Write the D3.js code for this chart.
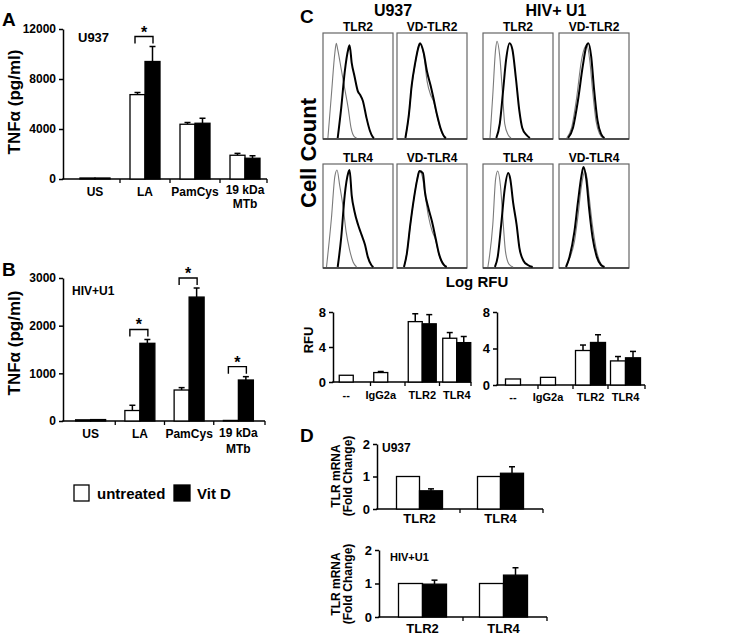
<!DOCTYPE html>
<html>
<head>
<meta charset="utf-8">
<script src="https://cdn.jsdelivr.net/npm/d3@7"></script>
<style>
  body { margin: 0; background: #fff; }
  svg { display: block; font-family: "Liberation Sans", Arial, sans-serif; font-weight: bold; }
</style>
</head>
<body>
<svg id="fig" width="750" height="636"></svg>
<script>
// ---------- data ----------

// A / B : TNFa secretion
const stimuli = [['US'], ['LA'], ['PamCys'], ['19 kDa', 'MTb']]
const u937Untreated = [80, 6750, 4380, 1900]
const u937UntreatedErr = [0, 170, 140, 150]
const u937VitD = [80, 9400, 4460, 1660]
const u937VitDErr = [0, 1200, 400, 200]
const u937Ticks = [0, 4000, 8000, 12000]

const u1Untreated = [25, 220, 650, 12]
const u1UntreatedErr = [0, 110, 50, 0]
const u1VitD = [30, 1630, 2600, 860]
const u1VitDErr = [0, 80, 190, 70]
const u1Ticks = [0, 1000, 2000, 3000]

// C : flow histograms (channel 0-100 on log RFU axis, relative cell count 0-100)
const u937Tlr2Iso = [[7,0],[12,42],[17,83],[19,92],[21,86],[26,67],[31,48],[36,29],[40,10],[45,1],[48,0]]
const u937Tlr2 = [[21,0],[26,29],[31,64],[36,86],[38,90],[41,73],[45,60],[50,45],[53,42],[57,36],[62,20],[67,7],[71,1],[73,0]]
const u937VdTlr2Iso = [[12,0],[17,22],[21,50],[26,72],[31,90],[32,92],[38,82],[43,55],[48,42],[52,36],[57,22],[62,9],[68,1],[70,0]]
const u937VdTlr2 = [[12,0],[17,23],[21,51],[26,73],[31,89],[33,92],[38,83],[43,64],[48,51],[52,39],[57,23],[62,10],[68,1],[70,0]]
const u1Tlr2Iso = [[10,0],[14,42],[18,86],[20,94],[24,79],[28,42],[31,14],[36,3],[40,0]]
const u1Tlr2 = [[19,0],[24,14],[29,48],[33,76],[38,92],[42,86],[47,58],[52,26],[56,10],[62,3],[67,0]]
const u1VdTlr2Iso = [[11,0],[18,10],[25,38],[32,75],[37,88],[40,90],[44,75],[48,46],[53,16],[58,4],[63,0]]
const u1VdTlr2 = [[13,0],[20,10],[27,36],[34,70],[39,89],[42,92],[46,79],[50,48],[55,17],[60,4],[65,0]]

const u937Tlr4Iso = [[5,0],[12,48],[17,90],[20,96],[24,80],[29,58],[33,35],[38,17],[43,5],[48,0]]
const u937Tlr4 = [[21,0],[26,29],[31,71],[36,93],[38,96],[41,71],[45,55],[50,42],[55,32],[60,22],[64,10],[69,2],[72,0]]
const u937VdTlr4Iso = [[10,0],[14,13],[19,42],[24,67],[29,88],[32,95],[36,90],[40,72],[45,50],[50,36],[55,27],[60,12],[67,2],[71,0]]
const u937VdTlr4 = [[10,0],[14,13],[19,42],[24,67],[29,87],[32,95],[37,93],[40,74],[45,58],[50,45],[55,29],[60,13],[67,2],[71,0]]
const u1Tlr4Iso = [[7,0],[14,42],[18,87],[21,95],[25,80],[29,42],[32,16],[37,3],[43,0]]
const u1Tlr4 = [[17,0],[21,10],[26,42],[31,77],[36,93],[39,87],[43,64],[48,42],[52,19],[58,6],[64,2],[71,0]]
const u1VdTlr4Iso = [[10,0],[15,8],[22,25],[27,50],[32,80],[37,95],[40,88],[43,70],[48,40],[54,15],[60,3],[65,0]]
const u1VdTlr4 = [[10,0],[15,10],[22,35],[27,64],[32,90],[35,99],[39,87],[43,58],[48,29],[54,10],[60,2],[65,0]]

// C : mean RFU bars
const rfuCats = [['--'], ['IgG2a'], ['TLR2'], ['TLR4']]
const rfuU937Untreated = [0.77, 1.08, 6.9, 5.0]
const rfuU937UntreatedErr = [0, 0.12, 0.9, 0.65]
const rfuU937VitD = [null, null, 6.65, 4.5]
const rfuU937VitDErr = [null, null, 1.05, 0.7]
const rfuU1Untreated = [0.66, 0.84, 3.78, 2.64]
const rfuU1UntreatedErr = [0, 0, 0.6, 0.48]
const rfuU1VitD = [null, null, 4.66, 2.98]
const rfuU1VitDErr = [null, null, 0.85, 0.7]
const rfuTicks = [0, 4, 8]

// D : TLR mRNA fold change
const mrnaCats = [['TLR2'], ['TLR4']]
const mrnaU937Untreated = [1, 1]
const mrnaU937VitD = [0.56, 1.1]
const mrnaU937VitDErr = [0.06, 0.2]
const mrnaU1Untreated = [1, 1]
const mrnaU1VitD = [0.98, 1.25]
const mrnaU1VitDErr = [0.12, 0.22]
const mrnaTicks = [0, 1, 2]

const svg = d3.select('#fig')

function barPanel(cfg) {
    const g = svg.append('g')
    const x = d3.scaleBand().domain(d3.range(cfg.cats.length)).range(cfg.band)
    const y = d3.scaleLinear().domain([0, cfg.yMax]).range(cfg.yRange)
    const bw = cfg.bw
    const cx = i => x(i) + x.bandwidth() / 2
    const y0 = y(0)

    const ya = g.append('g')
        .attr('transform', `translate(${cfg.axisX},0)`)
        .call(d3.axisLeft(y).tickValues(cfg.ticks).tickSize(4).tickSizeOuter(0).tickPadding(3)
            .tickFormat(d => String(d)))
        .attr('font-family', null)
        .attr('font-size', cfg.tickFont)
    ya.select('.domain').attr('stroke', '#000').attr('stroke-width', 1.5)
    ya.selectAll('.tick line').attr('stroke', '#000').attr('stroke-width', 1.5)
    ya.selectAll('.tick text').attr('fill', '#000')

    g.append('line')
        .attr('x1', cfg.axisX - 0.75).attr('x2', cfg.axisEnd)
        .attr('y1', y0).attr('y2', y0)
        .attr('stroke', '#000').attr('stroke-width', 1.5)

    // little ticks between categories
    const bounds = d3.range(1, cfg.cats.length).map(i => x(i)).concat([cfg.axisEnd])
    g.selectAll('line.xt').data(bounds).join('line')
        .attr('class', 'xt')
        .attr('x1', d => d).attr('x2', d => d)
        .attr('y1', y0).attr('y2', y0 + 4)
        .attr('stroke', '#000').attr('stroke-width', 1.3)

    let bars = []
    cfg.white.forEach((v, i) => { if (v != null) bars.push({v, e: cfg.whiteErr[i], fill: '#fff', x: cx(i) - bw}) })
    cfg.black.forEach((v, i) => { if (v != null) bars.push({v, e: cfg.blackErr[i], fill: '#000', x: cx(i)}) })

    const errs = bars.filter(d => d.e > 0)
    g.selectAll('line.err').data(errs).join('line')
        .attr('class', 'err')
        .attr('x1', d => d.x + bw / 2).attr('x2', d => d.x + bw / 2)
        .attr('y1', d => y(d.v)).attr('y2', d => y(d.v + d.e))
        .attr('stroke', '#000').attr('stroke-width', 1.5)
    g.selectAll('line.cap').data(errs).join('line')
        .attr('class', 'cap')
        .attr('x1', d => d.x + bw / 2 - 3).attr('x2', d => d.x + bw / 2 + 3)
        .attr('y1', d => y(d.v + d.e)).attr('y2', d => y(d.v + d.e))
        .attr('stroke', '#000').attr('stroke-width', 1.5)

    g.selectAll('rect.bar').data(bars).join('rect')
        .attr('class', 'bar')
        .attr('x', d => d.x).attr('y', d => y(d.v))
        .attr('width', bw).attr('height', d => y0 - y(d.v))
        .attr('fill', d => d.fill)
        .attr('stroke', '#000').attr('stroke-width', 1.3)

    cfg.cats.forEach((lines, i) => {
        const lx = cfg.black[i] == null ? cx(i) - bw / 2 : cx(i)
        const t = g.append('text')
            .attr('text-anchor', 'middle')
            .attr('y', cfg.labelY - (lines.length - 1) * (cfg.lineUp || 0))
            .style('font-size', cfg.labelFont + 'px')
        lines.forEach((s, k) => t.append('tspan').attr('x', lx).attr('dy', k ? cfg.lineGap : 0).text(s))
    })

    // significance brackets
    ;(cfg.sig || []).forEach(i => {
        const top = y(Math.max(cfg.black[i] + cfg.blackErr[i], cfg.white[i] + cfg.whiteErr[i])) - 10
        const xa = cx(i) - 10, xb = cx(i) + 8
        g.append('path')
            .attr('d', `M${xa},${top + 7}V${top}H${xb}V${top + 7}`)
            .attr('fill', 'none').attr('stroke', '#000').attr('stroke-width', 1.4)
        g.append('text')
            .attr('x', (xa + xb) / 2).attr('y', top + 1)
            .attr('text-anchor', 'middle')
            .style('font-size', '16px')
            .text('*')
    })

    if (cfg.note) {
        g.append('text').attr('x', cfg.note.x).attr('y', cfg.note.y)
            .style('font-size', cfg.note.size + 'px').text(cfg.note.text)
    }
    return g
}

function label(txt, x, y, size, opts = {}) {
    const t = svg.append('text')
        .attr('text-anchor', opts.anchor || 'start')
        .style('font-size', size + 'px')
        .text(txt)
    if (opts.rotate) {
        t.attr('transform', `translate(${x},${y}) rotate(-90)`)
    } else {
        t.attr('x', x).attr('y', y)
    }
    return t
}

// ---------- A ----------
barPanel({
    cats: stimuli, white: u937Untreated, whiteErr: u937UntreatedErr,
    black: u937VitD, blackErr: u937VitDErr,
    yMax: 12000, ticks: u937Ticks, yRange: [179, 29],
    band: [70, 270], bw: 15, axisX: 63, axisEnd: 267,
    tickFont: 12, labelFont: 12, labelY: 196, lineUp: 2, lineGap: 14,
    sig: [1], note: {text: 'U937', x: 78, y: 42, size: 13}
})
label('A', 2, 26, 19)
label('TNFα (pg/ml)', 20, 102, 17, {rotate: true, anchor: 'middle'})

// ---------- B ----------
barPanel({
    cats: stimuli, white: u1Untreated, whiteErr: u1UntreatedErr,
    black: u1VitD, blackErr: u1VitDErr,
    yMax: 3000, ticks: u1Ticks, yRange: [421, 278],
    band: [66, 263], bw: 15, axisX: 63, axisEnd: 265,
    tickFont: 12, labelFont: 12, labelY: 438, lineUp: 1, lineGap: 16,
    sig: [1, 2, 3], note: {text: 'HIV+U1', x: 72, y: 295, size: 12}
})
label('B', 2, 276, 19)
label('TNFα (pg/ml)', 20, 343, 17, {rotate: true, anchor: 'middle'})

// legend
svg.append('rect').attr('x', 74).attr('y', 485).attr('width', 15).attr('height', 16)
    .attr('fill', '#fff').attr('stroke', '#000').attr('stroke-width', 1.3)
label('untreated', 97, 499, 15)
svg.append('rect').attr('x', 174).attr('y', 485).attr('width', 16).attr('height', 16)
    .attr('fill', '#000').attr('stroke', '#000').attr('stroke-width', 1.3)
label('Vit D', 197, 499, 15)

// ---------- C histograms ----------
const histCols = [323, 397, 483, 559]
const histRows = [{top: 33, h: 106}, {top: 164, h: 104}]
const histPanels = [
    {row: 0, col: 0, title: 'TLR2', iso: u937Tlr2Iso, stain: u937Tlr2},
    {row: 0, col: 1, title: 'VD-TLR2', iso: u937VdTlr2Iso, stain: u937VdTlr2},
    {row: 0, col: 2, title: 'TLR2', iso: u1Tlr2Iso, stain: u1Tlr2},
    {row: 0, col: 3, title: 'VD-TLR2', iso: u1VdTlr2Iso, stain: u1VdTlr2},
    {row: 1, col: 0, title: 'TLR4', iso: u937Tlr4Iso, stain: u937Tlr4},
    {row: 1, col: 1, title: 'VD-TLR4', iso: u937VdTlr4Iso, stain: u937VdTlr4},
    {row: 1, col: 2, title: 'TLR4', iso: u1Tlr4Iso, stain: u1Tlr4},
    {row: 1, col: 3, title: 'VD-TLR4', iso: u1VdTlr4Iso, stain: u1VdTlr4}
]
const histW = 70

histPanels.forEach(p => {
    const x0 = histCols[p.col]
    const {top, h} = histRows[p.row]
    const hx = d3.scaleLinear().domain([0, 100]).range([x0, x0 + histW])
    const hy = d3.scaleLinear().domain([0, 100]).range([top + h - 1, top + 2])
    const line = d3.line().x(d => hx(d[0])).y(d => hy(d[1])).curve(d3.curveMonotoneX)
    const g = svg.append('g')

    g.append('rect').attr('x', x0).attr('y', top).attr('width', histW).attr('height', h)
        .attr('fill', '#fff').attr('stroke', '#666').attr('stroke-width', 1.2)
    g.append('line').attr('x1', x0).attr('x2', x0 + histW).attr('y1', top + h).attr('y2', top + h)
        .attr('stroke', '#333').attr('stroke-width', 1.5)
    g.append('path').attr('d', line(p.iso))
        .attr('fill', 'none').attr('stroke', '#7a7a7a').attr('stroke-width', 1.1)
    g.append('path').attr('d', line(p.stain))
        .attr('fill', 'none').attr('stroke', '#000').attr('stroke-width', 2)
    g.append('text').attr('x', x0 + histW / 2).attr('y', top - 2)
        .attr('text-anchor', 'middle').style('font-size', '12px').text(p.title)
})

label('C', 300, 23, 19)
label('U937', 393, 16, 16, {anchor: 'middle'})
label('HIV+ U1', 556, 16, 16, {anchor: 'middle'})
label('Cell Count', 316, 153, 22, {rotate: true, anchor: 'middle'})
label('Log RFU', 477, 287, 15, {anchor: 'middle'})

// ---------- C mean RFU ----------
barPanel({
    cats: rfuCats, white: rfuU937Untreated, whiteErr: rfuU937UntreatedErr,
    black: rfuU937VitD, blackErr: rfuU937VitDErr,
    yMax: 8, ticks: rfuTicks, yRange: [382, 312],
    band: [336, 474], bw: 14, axisX: 333, axisEnd: 471,
    tickFont: 13, labelFont: 11, labelY: 399
})
barPanel({
    cats: rfuCats, white: rfuU1Untreated, whiteErr: rfuU1UntreatedErr,
    black: rfuU1VitD, blackErr: rfuU1VitDErr,
    yMax: 8, ticks: rfuTicks, yRange: [385, 312],
    band: [503, 643], bw: 15, axisX: 497, axisEnd: 645,
    tickFont: 13, labelFont: 11, labelY: 401
})
label('RFU', 313, 340, 13, {rotate: true, anchor: 'middle'})

// ---------- D ----------
barPanel({
    cats: mrnaCats, white: mrnaU937Untreated, whiteErr: [0, 0],
    black: mrnaU937VitD, blackErr: mrnaU937VitDErr,
    yMax: 2, ticks: mrnaTicks, yRange: [509, 444],
    band: [379, 541], bw: 23, axisX: 377, axisEnd: 543,
    tickFont: 13, labelFont: 13, labelY: 523,
    note: {text: 'U937', x: 382, y: 452, size: 12}
})
barPanel({
    cats: mrnaCats, white: mrnaU1Untreated, whiteErr: [0, 0],
    black: mrnaU1VitD, blackErr: mrnaU1VitDErr,
    yMax: 2, ticks: mrnaTicks, yRange: [617, 550],
    band: [382, 544], bw: 24, axisX: 379, axisEnd: 547,
    tickFont: 13, labelFont: 13, labelY: 633,
    note: {text: 'HIV+U1', x: 390, y: 561, size: 11}
})
label('D', 300, 442, 19)
label('TLR mRNA', 340, 476, 12, {rotate: true, anchor: 'middle'})
label('(Fold Change)', 352, 476, 12, {rotate: true, anchor: 'middle'})
label('TLR mRNA', 340, 584, 12, {rotate: true, anchor: 'middle'})
label('(Fold Change)', 352, 584, 12, {rotate: true, anchor: 'middle'})
</script>
</body>
</html>
